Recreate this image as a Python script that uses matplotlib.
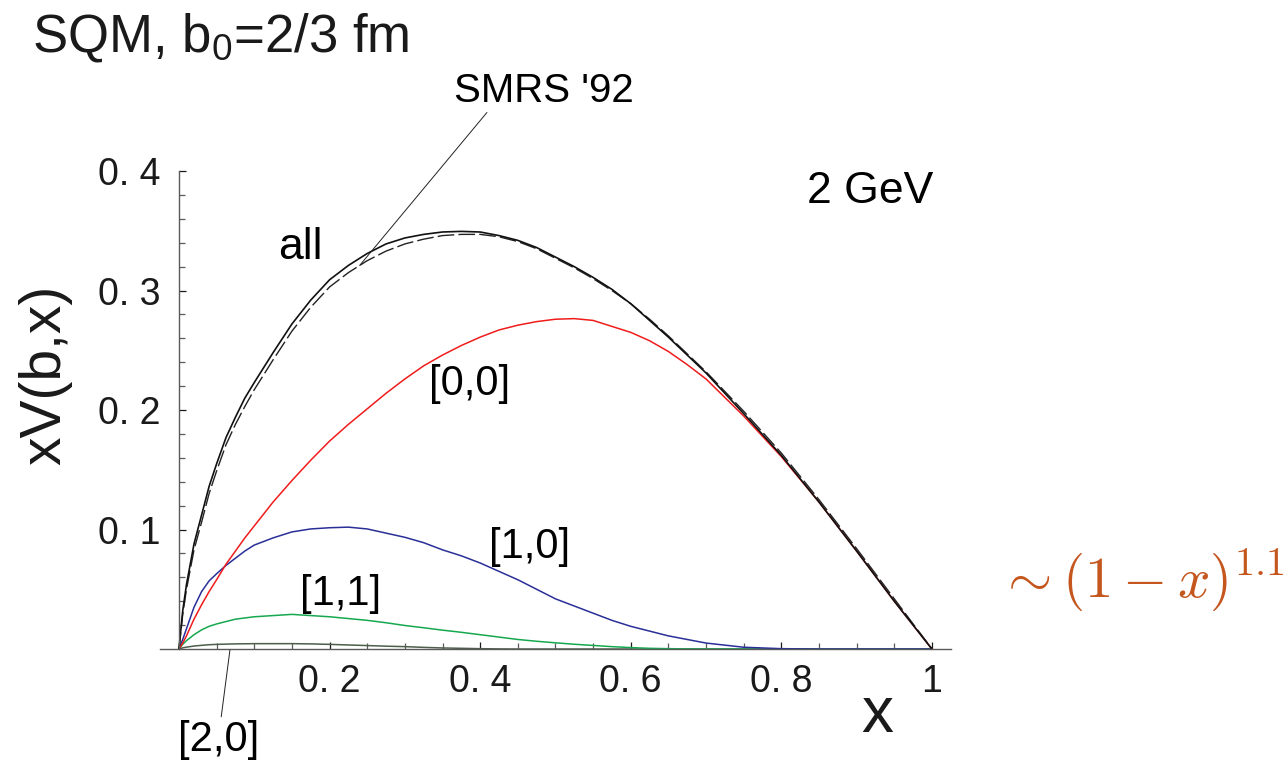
import numpy as np
import matplotlib
matplotlib.use("Agg")
import matplotlib.pyplot as plt

# ---------------------------------------------------------------------------
# data

x = [0, 0.005, 0.01, 0.02, 0.03, 0.04, 0.05, 0.0625, 0.075, 0.0875, 0.1,
     0.125, 0.15, 0.175, 0.2, 0.225, 0.25, 0.275, 0.3, 0.325, 0.35, 0.375,
     0.4, 0.425, 0.45, 0.475, 0.5, 0.525, 0.55, 0.575, 0.6, 0.625, 0.65,
     0.675, 0.7, 0.75, 0.8, 0.85, 0.9, 0.95, 1.0]

# "all"
v_all = [0, 0.032, 0.054, 0.088, 0.112, 0.136, 0.155, 0.177, 0.194, 0.210,
         0.223, 0.248, 0.272, 0.292, 0.309, 0.321, 0.331, 0.339, 0.344,
         0.347, 0.349, 0.3495, 0.349, 0.346, 0.342, 0.336, 0.328, 0.320,
         0.311, 0.301, 0.289, 0.275, 0.261, 0.246, 0.231, 0.197, 0.162,
         0.123, 0.082, 0.040, 0]

# SMRS '92 (dashed)
v_smrs = [0, 0.029, 0.050, 0.083, 0.106, 0.130, 0.149, 0.171, 0.188, 0.203,
          0.217, 0.242, 0.266, 0.286, 0.303, 0.315, 0.325, 0.333, 0.339,
          0.343, 0.346, 0.347, 0.347, 0.345, 0.341, 0.335, 0.327, 0.319,
          0.310, 0.300, 0.289, 0.276, 0.262, 0.247, 0.232, 0.199, 0.164,
          0.125, 0.084, 0.042, 0]

# [0,0]
v_00 = [0, 0.005, 0.011, 0.025, 0.037, 0.048, 0.058, 0.071, 0.082, 0.093,
        0.103, 0.123, 0.141, 0.158, 0.174, 0.188, 0.201, 0.214, 0.226, 0.237,
        0.246, 0.254, 0.261, 0.267, 0.271, 0.274, 0.276, 0.2765, 0.275,
        0.270, 0.265, 0.258, 0.249, 0.238, 0.226, 0.195, 0.161, 0.123, 0.082,
        0.040, 0]

# [1,0]
v_10 = [0, 0.008, 0.017, 0.035, 0.048, 0.057, 0.063, 0.070, 0.076, 0.082,
        0.087, 0.093, 0.098, 0.1005, 0.1015, 0.102, 0.1005, 0.097, 0.0935,
        0.089, 0.083, 0.078, 0.072, 0.065, 0.058, 0.050, 0.042, 0.036, 0.030,
        0.024, 0.019, 0.015, 0.011, 0.008, 0.005, 0.0015, 0.0003, 0, 0, 0, 0]

# [1,1]
v_11 = [0, 0.004, 0.007, 0.012, 0.016, 0.019, 0.021, 0.023, 0.025, 0.026,
        0.027, 0.028, 0.029, 0.028, 0.027, 0.0255, 0.024, 0.022, 0.0197,
        0.0178, 0.0158, 0.014, 0.012, 0.010, 0.008, 0.0065, 0.0052, 0.004,
        0.003, 0.002, 0.0012, 0.0006, 0.0003, 0.0001, 0, 0, 0, 0, 0, 0, 0]

# [2,0]
v_20 = [0, 0.001, 0.0016, 0.0025, 0.0031, 0.0036, 0.0039, 0.0041, 0.0043,
        0.0044, 0.0045, 0.0045, 0.0045, 0.0043, 0.0039, 0.0034, 0.0029,
        0.0024, 0.002, 0.0014, 0.0009, 0.0006, 0.0003, 0.0001, 0, 0, 0, 0, 0,
        0, 0, 0, 0, 0, 0, 0, 0, 0, 0, 0, 0]

xticks_major = [0.2, 0.4, 0.6, 0.8, 1.0]
xtick_labels = ["0. 2", "0. 4", "0. 6", "0. 8", "1"]
yticks_major = [0.1, 0.2, 0.3, 0.4]
ytick_labels = ["0. 1", "0. 2", "0. 3", "0. 4"]

# ---------------------------------------------------------------------------
# style

plt.rcParams['font.family'] = ['Liberation Sans', 'DejaVu Sans']
plt.rcParams['mathtext.fontset'] = 'custom'
plt.rcParams['mathtext.rm'] = 'Liberation Sans'
plt.rcParams['mathtext.it'] = 'Liberation Sans:italic'
plt.rcParams['lines.solid_joinstyle'] = 'round'

axis_col = '#5a5a5a'

fig = plt.figure(figsize=(12.88, 7.66), dpi=100)
ax = fig.add_axes([0.1214, 0.1449, 0.6197, 0.6474])

ax.plot(x, v_20, color='#4d5e4b', lw=1.1)
ax.plot(x, v_11, color='#16a84e', lw=1.1)
ax.plot(x, v_10, color='#2a2f98', lw=1.1)
ax.plot(x, v_00, color='#f01c1c', lw=1.1)
ax.plot(x, v_smrs, color='#222222', lw=1.0, dashes=(12, 3))
ax.plot(x, v_all, color='#111111', lw=1.2)

ax.set_xlim(-0.03, 1.03)
ax.set_ylim(-0.005, 0.41)

for s in ['top', 'right']:
    ax.spines[s].set_visible(False)
ax.spines['left'].set_position(('data', 0))
ax.spines['bottom'].set_position(('data', 0))
ax.spines['left'].set_bounds(0, 0.4)
ax.spines['bottom'].set_bounds(-0.025, 1.025)
for s in ['left', 'bottom']:
    ax.spines[s].set_color(axis_col)
    ax.spines[s].set_linewidth(1.0)

ax.set_xticks(xticks_major)
ax.set_xticklabels(xtick_labels)
ax.set_xticks(np.arange(0.05, 1.0, 0.05), minor=True)
ax.set_yticks(yticks_major)
ax.set_yticklabels(ytick_labels)
ax.set_yticks(np.arange(0.02, 0.4, 0.02), minor=True)
ax.tick_params(which='both', direction='in', color=axis_col, width=0.9)
ax.tick_params(which='major', length=5, labelsize=27, colors='#1a1a1a')
ax.tick_params(which='minor', length=4)
ax.tick_params(axis='x', which='major', pad=11)
ax.tick_params(axis='y', which='major', pad=13)
for t in ax.get_xticklines() + ax.get_yticklines():
    t.set_color(axis_col)

# axis labels
fig.text(45 / 1288, 1 - 375 / 766, "xV(b,x)", fontsize=41, rotation=90,
         ha='center', va='center', color='#1a1a1a')
fig.text(877 / 1288, 1 - 715 / 766, "x", fontsize=46, ha='center',
         va='center', color='#1a1a1a')

# title
fig.text(32 / 1288, 1 - 52 / 766, r"SQM, b$_0$=2/3 fm", fontsize=38,
         ha='left', va='baseline', color='#1a1a1a')

# curve labels
ax.text(0.161, 0.336, "all", fontsize=32, ha='center', va='center')
ax.text(0.918, 0.383, "2 GeV", fontsize=32, ha='center', va='center')
ax.text(0.386, 0.222, "[0,0]", fontsize=30, ha='center', va='center')
ax.text(0.466, 0.085, "[1,0]", fontsize=30, ha='center', va='center')
ax.text(0.215, 0.046, "[1,1]", fontsize=30, ha='center', va='center')

ax.text(0.485, 0.451, "SMRS '92", fontsize=29, ha='center', va='bottom')
ax.annotate("", xy=(0.240, 0.321), xytext=(0.409, 0.449),
            annotation_clip=False,
            arrowprops=dict(arrowstyle='-', lw=0.7, color='#222222',
                            shrinkA=0, shrinkB=0))
ax.annotate("[2,0]", xy=(0.0677, -0.0008), xytext=(0.0522, -0.059),
            fontsize=30, ha='center', va='top', annotation_clip=False,
            arrowprops=dict(arrowstyle='-', lw=0.7, color='#222222',
                            shrinkA=0, shrinkB=0))

# asymptotic behaviour
fig.text(1141 / 1288, 1 - 580 / 766, r"$\sim(1-x)^{1.1}$", fontsize=41,
         ha='center', va='center', color='#c4561e', math_fontfamily='cm')

fig.savefig("out.png", dpi=100)
